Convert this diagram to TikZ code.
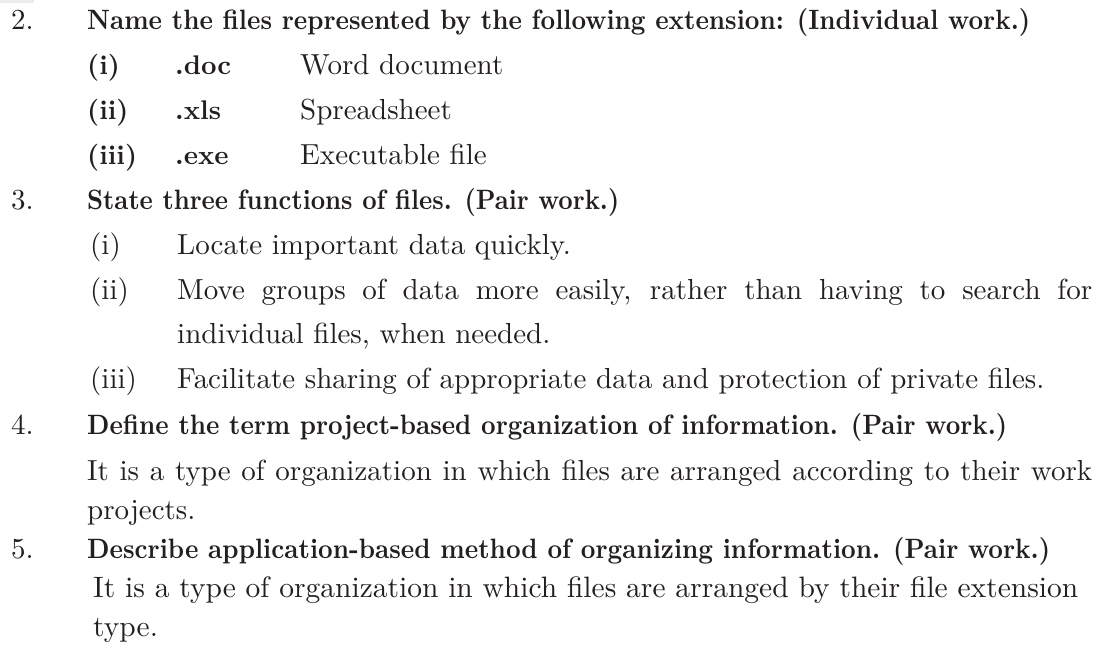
\documentclass[tikz,border=0pt]{standalone}
\usepackage{fontspec}
\usepackage{graphicx}
\setmainfont{lmroman10-regular.otf}[BoldFont=lmroman10-bold.otf]
\definecolor{ink}{HTML}{231F20}
\newcommand{\hdw}[2]{\resizebox{#1}{\height}{#2}}
\begin{document}
\begin{tikzpicture}[x=1pt,y=1pt,
  txt/.style={anchor=base west, inner sep=0pt, text=ink, font=\fontsize{29}{35}\selectfont},
  wide/.style={txt, font=\fontsize{29.5}{35}\selectfont},
  bld/.style={txt, font=\fontsize{28}{34}\selectfont\bfseries},
  lab/.style={txt, font=\fontsize{27}{32}\selectfont\bfseries}]
\useasboundingbox (0,0) rectangle (1104,658);
\fill[gray!15] (0,658) rectangle (34,655);
% item 2
\node[txt] (n2) at (11,628) {2.};
\node[bld] (h2) at (87,628) {\hdw{943pt}{Name the files represented by the following extension: (Individual work.)}};
\node[lab] (a1) at (87,583) {(i)};
\node[lab] (a1e) at (175,583) {.doc};
\node[txt] (a1d) at (300,583) {Word document};
\node[lab] (a2) at (87,538) {(ii)};
\node[lab] (a2e) at (175,538) {.xls};
\node[txt] (a2d) at (300,538) {Spreadsheet};
\node[lab] (a3) at (87,493) {(iii)};
\node[lab] (a3e) at (175,493) {.exe};
\node[txt] (a3d) at (300,493) {Executable file};
% item 3
\node[txt] (n3) at (11,448) {3.};
\node[bld] (h3) at (87,448) {\hdw{532pt}{State three functions of files. (Pair work.)}};
\node[txt] (b1) at (90,403) {(i)};
\node[txt] (b1t) at (177,403) {Locate important data quickly.};
\node[txt] (b2) at (90,358) {(ii)};
\node[txt] (b2t) at (177,358) {\makebox[915pt][s]{Move groups of data more easily, rather than having to search for}};
\node[txt] (b2u) at (177,314) {individual files, when needed.};
\node[txt] (b3) at (90,269) {(iii)};
\node[txt] (b3t) at (177,269) {Facilitate sharing of appropriate data and protection of private files.};
% item 4
\node[txt] (n4) at (11,223) {4.};
\node[bld] (h4) at (87,223) {\hdw{920pt}{Define the term project-based organization of information. (Pair work.)}};
\node[txt] (c1) at (87,177) {\makebox[1005pt][s]{It is a type of organization in which files are arranged according to their work}};
\node[txt] (c2) at (87,138) {projects.};
% item 5
\node[txt] (n5) at (11,99) {5.};
\node[bld] (h5) at (87,99) {\hdw{963pt}{Describe application-based method of organizing information. (Pair work.)}};
\node[wide] (d1) at (93,60) {It is a type of organization in which files are arranged by their file extension};
\node[wide] (d2) at (93,21) {type.};
\end{tikzpicture}
\end{document}
